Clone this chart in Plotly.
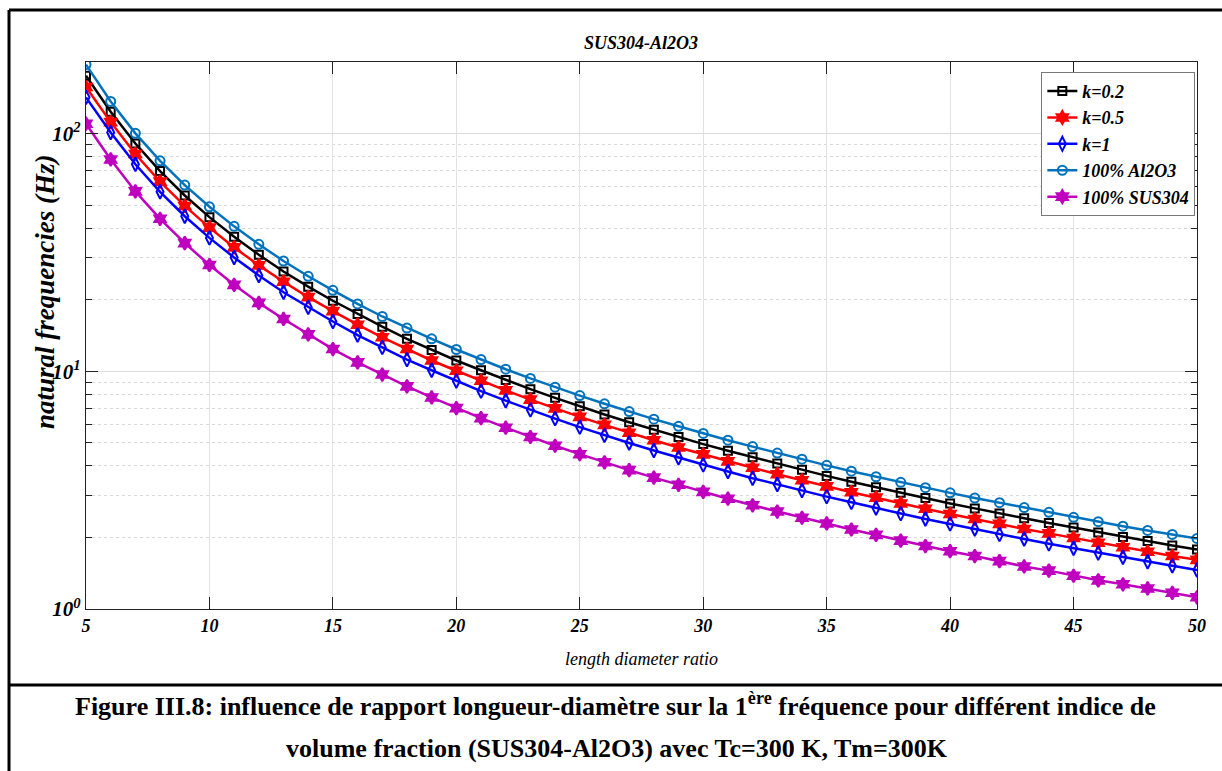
import plotly.graph_objects as go

ratio = list(range(5, 51))

k02 = [175, 123.6, 90.8, 69.5, 54.9, 44.5, 36.8, 30.9, 26.3, 22.7, 19.8, 17.4, 15.4, 13.7, 12.3,
       11.1, 10.1, 9.19, 8.41, 7.73, 7.12, 6.58, 6.10, 5.68, 5.29, 4.94, 4.63, 4.35, 4.09, 3.85,
       3.63, 3.43, 3.25, 3.08, 2.93, 2.78, 2.65, 2.52, 2.41, 2.30, 2.20, 2.10, 2.01, 1.93, 1.85, 1.78]
k05 = [157, 111.7, 82.0, 62.8, 49.6, 40.2, 33.2, 27.9, 23.8, 20.5, 17.9, 15.7, 13.9, 12.4, 11.1,
       10.05, 9.12, 8.31, 7.60, 6.98, 6.43, 5.95, 5.51, 5.13, 4.78, 4.47, 4.18, 3.93, 3.69, 3.48,
       3.28, 3.10, 2.94, 2.78, 2.64, 2.51, 2.39, 2.28, 2.17, 2.08, 1.99, 1.90, 1.82, 1.74, 1.67, 1.61]
k1 = [142, 101.1, 74.3, 56.9, 44.9, 36.4, 30.1, 25.3, 21.5, 18.6, 16.2, 14.2, 12.6, 11.2, 10.1,
      9.10, 8.25, 7.52, 6.88, 6.32, 5.82, 5.38, 4.99, 4.64, 4.33, 4.04, 3.79, 3.55, 3.34, 3.15,
      2.97, 2.81, 2.66, 2.52, 2.39, 2.28, 2.17, 2.06, 1.97, 1.88, 1.80, 1.72, 1.65, 1.58, 1.52, 1.46]
al2o3 = [195, 136.5, 100.2, 76.8, 60.7, 49.2, 40.7, 34.2, 29.1, 25.1, 21.9, 19.2, 17.0, 15.2, 13.7,
         12.35, 11.2, 10.2, 9.33, 8.57, 7.90, 7.30, 6.77, 6.29, 5.87, 5.48, 5.13, 4.82, 4.53, 4.27,
         4.02, 3.80, 3.60, 3.41, 3.24, 3.08, 2.93, 2.80, 2.67, 2.55, 2.43, 2.33, 2.23, 2.14, 2.06, 1.98]
sus304 = [110, 77.8, 57.1, 43.8, 34.6, 28.0, 23.1, 19.4, 16.6, 14.3, 12.4, 10.9, 9.69, 8.64, 7.76,
          7.00, 6.35, 5.79, 5.29, 4.86, 4.48, 4.14, 3.84, 3.57, 3.33, 3.11, 2.91, 2.73, 2.57, 2.42,
          2.29, 2.16, 2.05, 1.94, 1.84, 1.75, 1.67, 1.59, 1.51, 1.45, 1.38, 1.32, 1.27, 1.22, 1.17, 1.12]

series_names = ["k=0.2", "k=0.5", "k=1", "100% Al2O3", "100% SUS304"]
series_data = [k02, k05, k1, al2o3, sus304]
colors = ["#000000", "#FF0000", "#0000FF", "#0072BD", "#BF00BF"]
symbols = ["square-open", "hexagram", "diamond-tall-open", "circle-open", "hexagram"]
msizes = [8, 10, 10, 9, 10]

x_ticks = [5, 10, 15, 20, 25, 30, 35, 40, 45, 50]
y_ticks = [1, 10, 100]
y_ticktext = ["10<sup>0</sup>", "10<sup>1</sup>", "10<sup>2</sup>"]

FONT = "Liberation Serif"

fig = go.Figure()
for name, data, c, s, ms in zip(series_names, series_data, colors, symbols, msizes):
    fig.add_trace(go.Scatter(
        x=ratio, y=data, name=name, mode="lines+markers",
        line=dict(color=c, width=2.5),
        marker=dict(symbol=s, size=ms, color=c, line=dict(color=c, width=2)),
    ))

# pixel geometry helpers for frame / caption
L, R, T, B = 86, 1197, 62, 609
W, H = R - L, B - T
def px(x):
    return (x - L) / W
def py(y):
    return (B - y) / H

shapes = [
    dict(type="line", xref="paper", yref="paper", x0=px(9), x1=px(1230), y0=py(10), y1=py(10),
         line=dict(color="black", width=3)),
    dict(type="line", xref="paper", yref="paper", x0=px(9), x1=px(9), y0=py(10), y1=py(780),
         line=dict(color="black", width=3)),
    dict(type="line", xref="paper", yref="paper", x0=px(9), x1=px(1230), y0=py(685), y1=py(685),
         line=dict(color="black", width=3)),
]

annotations = [
    dict(text="<b><i>SUS304-Al2O3</i></b>", xref="paper", yref="paper", x=px(641), y=py(43),
         xanchor="center", yanchor="middle",
         showarrow=False, font=dict(family=FONT, size=18, color="black")),
    dict(text="<b>Figure III.8: influence de rapport longueur-diamètre sur la 1<sup>ère</sup> fréquence pour différent indice de</b>",
         xref="paper", yref="paper", x=px(615), y=py(704), xanchor="center", yanchor="middle",
         showarrow=False, font=dict(family=FONT, size=26, color="black")),
    dict(text="<b>volume fraction (SUS304-Al2O3) avec Tc=300 K, Tm=300K</b>",
         xref="paper", yref="paper", x=px(617), y=py(748), xanchor="center", yanchor="middle",
         showarrow=False, font=dict(family=FONT, size=26, color="black")),
    dict(text="<i>length diameter ratio</i>", xref="paper", yref="paper", x=px(641), y=py(659),
         xanchor="center", yanchor="middle",
         showarrow=False, font=dict(family=FONT, size=18, color="black")),
    dict(text="<b><i>natural frequencies (Hz)</i></b>", xref="paper", yref="paper", x=px(45), y=py(292),
         xanchor="center", yanchor="middle", textangle=-90,
         showarrow=False, font=dict(family=FONT, size=27, color="black")),
]

fig.update_layout(
    width=1222, height=771,
    margin=dict(l=L, r=1222 - R, t=T, b=771 - B),
    paper_bgcolor="white", plot_bgcolor="white",
    font=dict(family=FONT, color="black"),
    showlegend=True,
    legend=dict(x=0.9985, y=0.982, xanchor="right", yanchor="top",
                bgcolor="white", bordercolor="#777777", borderwidth=1,
                font=dict(family=FONT, size=18, color="black", style="italic", weight="bold"),
                itemwidth=30, tracegroupgap=0),
    shapes=shapes,
    annotations=annotations,
    xaxis=dict(
        range=[5, 50], tickvals=x_ticks, ticks="inside", ticklen=12, tickwidth=1.2,
        tickcolor="#222", showline=True, linecolor="#222", linewidth=1.2, mirror="ticks",
        showgrid=True, gridcolor="#e3e3e3", gridwidth=1, zeroline=False, automargin=False,
        tickfont=dict(family=FONT, size=18, style="italic", weight="bold"),
    ),
    yaxis=dict(
        type="log", range=[0, 2.301], tickvals=y_ticks, ticktext=y_ticktext,
        ticks="inside", ticklen=12, tickwidth=1.2, tickcolor="#222",
        showline=True, linecolor="#222", linewidth=1.2, mirror="ticks",
        showgrid=True, gridcolor="#dcdcdc", gridwidth=1, zeroline=False, automargin=False,
        minor=dict(dtick="D1", ticks="inside", ticklen=6, tickcolor="#222",
                   showgrid=True, gridcolor="#d8d8d8", griddash="dot", gridwidth=1),
        tickfont=dict(family=FONT, size=21, style="italic", weight="bold"),
    ),
)

fig.write_html("out.html")
